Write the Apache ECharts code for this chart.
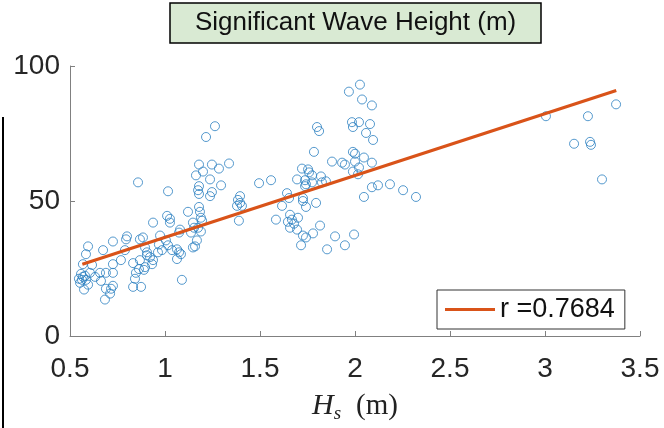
<!DOCTYPE html>
<html>
<head>
<meta charset="utf-8">
<script src="https://cdn.jsdelivr.net/npm/echarts@6/dist/echarts.min.js"></script>
<style>html,body{margin:0;padding:0;background:#fff}#c{width:664px;height:428px}</style>
</head>
<body>
<div id="c"></div>
<script>
// Significant wave height Hs (m)
var hs = [
0.568,0.595,0.584,0.616,0.558,0.568,0.547,0.579,0.563,0.553,0.584,0.595,0.574,0.632,0.605,
0.658,0.689,0.726,0.674,0.726,0.726,0.689,0.711,0.684,0.726,0.716,0.663,
0.768,0.795,0.800,0.789,0.832,0.868,0.863,0.847,0.842,0.832,0.874,0.868,0.884,0.895,0.905,0.905,0.895,0.889,0.921,0.932,0.937,0.937,0.974,0.968,0.963,0.984,0.858,
1.011,1.026,1.026,1.005,1.016,1.037,1.079,1.074,1.063,1.074,1.084,1.063,1.089,1.016,
1.121,1.179,1.184,1.189,1.147,1.153,1.174,1.189,1.137,1.168,1.158,1.147,1.195,
1.263,1.216,1.179,1.247,1.284,1.337,1.200,1.163,1.237,1.295,1.179,1.174,1.179,1.247,1.237,
1.395,1.384,1.395,1.379,1.405,1.389,
1.495,1.558,1.584,1.616,
1.784,1.800,1.811,1.721,1.753,1.758,1.695,1.737,1.774,1.821,1.826,1.847,1.742,1.737,1.774,
1.642,1.653,1.726,1.726,1.742,1.795,
1.658,1.668,1.647,1.700,1.679,1.658,1.695,1.816,1.779,1.726,1.742,1.716,1.895,1.995,1.947,1.853,
1.879,1.932,1.947,1.989,2.000,2.000,2.047,2.089,1.989,2.021,2.016,
1.968,2.026,2.037,2.089,1.984,1.989,2.021,2.079,2.058,2.095,
2.047,2.089,2.121,2.184,2.253,2.321,
3.005,3.226,3.374,3.153,3.237,3.242,3.300
];
// Paired variable (0-100)
var yv = [
26.6,33.2,30.3,26.3,23.0,21.9,21.2,22.3,20.8,19.7,20.8,19.0,17.2,21.9,23.4,
23.4,23.4,23.4,31.8,35.0,26.6,17.5,15.7,13.5,18.6,17.5,20.4,
28.1,35.8,36.9,31.8,27.0,28.1,24.8,23.4,21.2,18.2,18.2,35.8,36.5,32.8,31.0,29.9,25.5,24.5,29.2,26.6,28.1,42.0,37.2,33.9,31.0,31.8,56.9,
44.5,43.4,42.0,35.4,33.6,31.8,39.4,38.3,32.1,31.0,30.3,28.5,20.8,53.6,
46.0,47.8,46.0,43.8,42.0,40.1,40.1,38.7,38.3,35.4,33.2,32.8,42.7,
77.7,73.7,63.5,63.5,62.0,63.9,60.9,59.5,58.0,55.8,55.5,54.0,52.6,53.3,51.8,
51.8,50.4,49.3,48.2,48.2,42.7,
56.6,57.7,43.1,48.2,
68.2,77.4,75.9,62.0,61.7,60.6,58.0,57.7,59.5,59.1,56.9,57.3,56.2,55.5,56.9,
52.9,51.1,51.1,50.0,47.8,49.3,
44.9,43.1,42.3,43.8,41.6,40.1,39.4,40.9,38.0,37.2,36.5,33.6,36.9,37.6,33.6,32.1,
64.6,64.2,63.5,68.2,67.5,64.6,66.1,64.2,60.9,62.4,59.9,
90.5,93.1,87.6,85.4,79.2,77.4,79.2,78.5,75.2,72.6,
51.5,55.1,55.8,56.2,54.0,51.5,
81.4,81.4,85.8,71.2,71.9,70.8,58.0
];
// Fitted line end points
var fitX = [0.565, 3.375];
var fitY = [26.6, 90.9];
var fitLabel = 'r =0.7684';
var titleText = 'Significant Wave Height (m)';

var pts = hs.map(function (x, i) { return [x, yv[i]]; });
var fit = fitX.map(function (x, i) { return [x, fitY[i]]; });

var axisCol = '#808080';
var labCol = '#262626';
var chart = echarts.init(document.getElementById('c'));
chart.setOption({
  animation: false,
  backgroundColor: '#fff',
  title: {
    text: titleText,
    left: 170, top: 3,
    padding: [7, 25, 7, 25],
    backgroundColor: '#d9ead3',
    borderColor: '#000',
    borderWidth: 1.5,
    textStyle: { fontFamily: 'Liberation Sans', fontSize: 26, fontWeight: 'normal', color: '#111' }
  },
  grid: { left: 70, right: 24, top: 66, bottom: 88, containLabel: false },
  legend: {
    data: [{ name: fitLabel, icon: 'rect' }],
    left: 437, top: 290,
    orient: 'vertical',
    padding: [6, 10, 6, 8],
    itemWidth: 50, itemHeight: 3, itemGap: 0,
    backgroundColor: '#fff',
    borderColor: '#333', borderWidth: 1,
    textStyle: { fontFamily: 'Liberation Sans', fontSize: 27, color: '#111', padding: [0, 0, 0, 0] }
  },
  xAxis: {
    type: 'value', min: 0.5, max: 3.5, interval: 0.5,
    axisLine: { show: true, onZero: false, lineStyle: { color: axisCol, width: 1 } },
    axisTick: { show: true, inside: true, length: 5, lineStyle: { color: axisCol } },
    splitLine: { show: false },
    axisLabel: { showMinLabel: true, showMaxLabel: true, margin: 19, fontFamily: 'Liberation Sans', fontSize: 28, color: labCol },
    name: '{i|H}{s|s}{n|(m)}',
    nameLocation: 'middle',
    nameGap: 53,
    nameTextStyle: {
      rich: {
        i: { fontFamily: 'Liberation Serif', fontStyle: 'italic', fontSize: 30, lineHeight: 34, color: '#222' },
        s: { fontFamily: 'Liberation Serif', fontStyle: 'italic', fontSize: 19, lineHeight: 19, verticalAlign: 'bottom', color: '#222' },
        n: { fontFamily: 'Liberation Serif', fontSize: 29, lineHeight: 34, color: '#222', padding: [0, 0, 0, 15] }
      }
    }
  },
  yAxis: {
    type: 'value', min: 0, max: 100, interval: 50,
    axisLine: { show: true, onZero: false, lineStyle: { color: axisCol, width: 1 } },
    axisTick: { show: true, inside: true, length: 5, lineStyle: { color: axisCol } },
    splitLine: { show: false },
    axisLabel: { showMinLabel: true, showMaxLabel: true, margin: 10, fontFamily: 'Liberation Sans', fontSize: 28, color: labCol }
  },
  graphic: [{
    type: 'line', shape: { x1: 3, y1: 117, x2: 3, y2: 428 },
    style: { stroke: '#000', lineWidth: 2 }, silent: true
  }],
  series: [{
    type: 'scatter', name: 'data', data: pts,
    symbol: 'circle', symbolSize: 9,
    itemStyle: { color: 'rgba(0,0,0,0)', borderColor: '#2b7fc1', borderWidth: 1 },
    z: 2
  }, {
    type: 'line', name: fitLabel, data: fit,
    symbol: 'none', showSymbol: false,
    lineStyle: { color: '#D95319', width: 3.2 },
    itemStyle: { color: '#D95319' },
    z: 5
  }]
});
</script>
</body>
</html>
